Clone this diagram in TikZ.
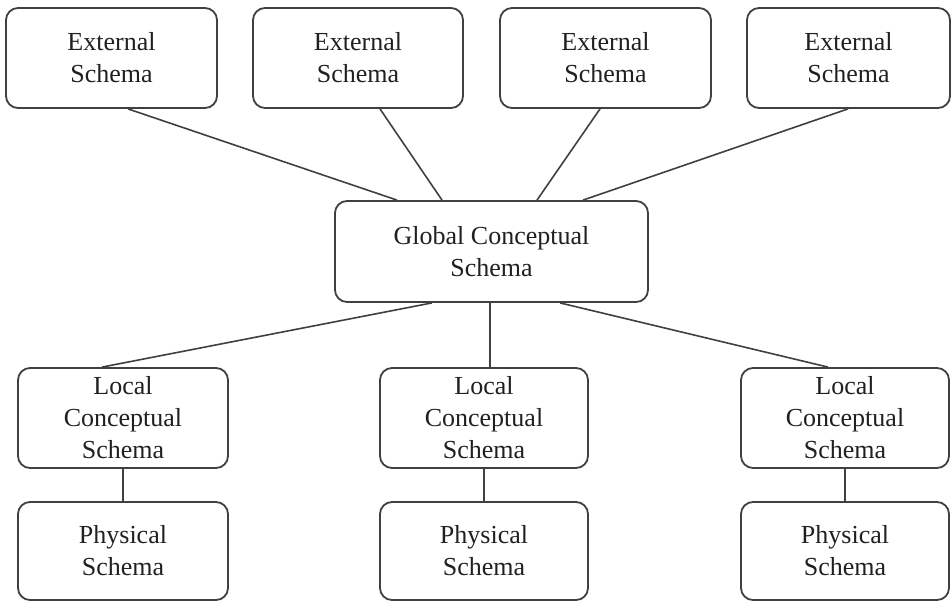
\documentclass[tikz,border=0pt]{standalone}
\usepackage{fontspec}
\setmainfont{Liberation Serif}
\definecolor{edge}{HTML}{404040}
\definecolor{ink}{HTML}{202020}
\begin{document}
\begin{tikzpicture}[x=1pt,y=-1pt,
  schemabox/.style={draw=edge, line width=1.8pt, rounded corners=12pt,
    inner sep=0pt, align=center, text=ink,
    font=\fontsize{26}{32}\selectfont},
  link/.style={draw=edge, line width=1.6pt}]
\useasboundingbox (0,0) rectangle (952,602);

% external schemas
\node[schemabox, minimum width=211pt, minimum height=100pt] (ext1) at (111.5,58) {External\\Schema};
\node[schemabox, minimum width=210pt, minimum height=100pt] (ext2) at (358,58) {External\\Schema};
\node[schemabox, minimum width=211pt, minimum height=100pt] (ext3) at (605.5,58) {External\\Schema};
\node[schemabox, minimum width=203pt, minimum height=100pt] (ext4) at (848.5,58) {External\\Schema};

% global conceptual schema
\node[schemabox, minimum width=313pt, minimum height=101pt] (glob) at (491.5,251.5) {Global Conceptual\\Schema};

% local conceptual schemas
\node[schemabox, minimum width=210pt, minimum height=100pt] (loc1) at (123,418) {Local\\Conceptual\\Schema};
\node[schemabox, minimum width=208pt, minimum height=100pt] (loc2) at (484,418) {Local\\Conceptual\\Schema};
\node[schemabox, minimum width=208pt, minimum height=100pt] (loc3) at (845,418) {Local\\Conceptual\\Schema};

% physical schemas
\node[schemabox, minimum width=210pt, minimum height=98pt] (phy1) at (123,551) {Physical\\Schema};
\node[schemabox, minimum width=208pt, minimum height=98pt] (phy2) at (484,551) {Physical\\Schema};
\node[schemabox, minimum width=208pt, minimum height=98pt] (phy3) at (845,551) {Physical\\Schema};

% external -> global
\draw[link] ([xshift=16.5pt]ext1.south) -- ([xshift=-94.5pt]glob.north);
\draw[link] ([xshift=22pt]ext2.south) -- ([xshift=-49.5pt]glob.north);
\draw[link] ([xshift=-5.5pt]ext3.south) -- ([xshift=45.5pt]glob.north);
\draw[link] ([xshift=-0.5pt]ext4.south) -- ([xshift=91.5pt]glob.north);

% global -> local
\draw[link] ([xshift=-59.5pt]glob.south) -- ([xshift=-21pt]loc1.north);
\draw[link] ([xshift=-1.5pt]glob.south) -- ([xshift=6pt]loc2.north);
\draw[link] ([xshift=68.5pt]glob.south) -- ([xshift=-17pt]loc3.north);

% local -> physical
\draw[link] (loc1.south) -- (phy1.north);
\draw[link] (loc2.south) -- (phy2.north);
\draw[link] (loc3.south) -- (phy3.north);
\end{tikzpicture}
\end{document}
